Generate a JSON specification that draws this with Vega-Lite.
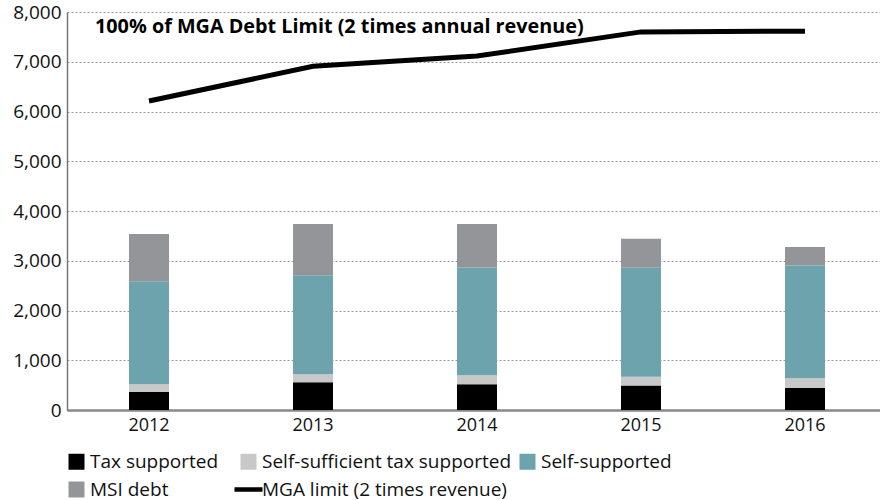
{
  "$schema": "https://vega.github.io/schema/vega-lite/v6.json",
  "width": 820,
  "height": 398,
  "padding": {"left": 12, "top": 3, "right": 0, "bottom": 0},
  "config": {
    "font": "Open Sans",
    "view": {"stroke": null},
    "axis": {"labelFont": "Open Sans", "labelFontSize": 18, "labelColor": "#111", "ticks": false, "title": null}
  },
  "datasets": {
    "debt": [
      {"year": "2012", "category": "Tax supported", "value": 360},
      {"year": "2012", "category": "Self-sufficient tax supported", "value": 160},
      {"year": "2012", "category": "Self-supported", "value": 2070},
      {"year": "2012", "category": "MSI debt", "value": 950},
      {"year": "2013", "category": "Tax supported", "value": 560},
      {"year": "2013", "category": "Self-sufficient tax supported", "value": 160},
      {"year": "2013", "category": "Self-supported", "value": 1990},
      {"year": "2013", "category": "MSI debt", "value": 1030},
      {"year": "2014", "category": "Tax supported", "value": 520},
      {"year": "2014", "category": "Self-sufficient tax supported", "value": 180},
      {"year": "2014", "category": "Self-supported", "value": 2165},
      {"year": "2014", "category": "MSI debt", "value": 875},
      {"year": "2015", "category": "Tax supported", "value": 490},
      {"year": "2015", "category": "Self-sufficient tax supported", "value": 180},
      {"year": "2015", "category": "Self-supported", "value": 2190},
      {"year": "2015", "category": "MSI debt", "value": 580},
      {"year": "2016", "category": "Tax supported", "value": 440},
      {"year": "2016", "category": "Self-sufficient tax supported", "value": 200},
      {"year": "2016", "category": "Self-supported", "value": 2265},
      {"year": "2016", "category": "MSI debt", "value": 370}
    ],
    "stackorder": [
      {"category": "Tax supported", "rank": 1},
      {"category": "Self-sufficient tax supported", "rank": 2},
      {"category": "Self-supported", "rank": 3},
      {"category": "MSI debt", "rank": 4}
    ],
    "limit": [
      {"year": "2012", "limit": 6210},
      {"year": "2013", "limit": 6910},
      {"year": "2014", "limit": 7115},
      {"year": "2015", "limit": 7600},
      {"year": "2016", "limit": 7615}
    ],
    "note": [
      {"year": "2012", "y": 7700, "label": "100% of MGA Debt Limit (2 times annual revenue)"}
    ]
  },
  "encoding": {
    "x": {
      "field": "year",
      "type": "ordinal",
      "scale": {"paddingInner": 0, "paddingOuter": 0},
      "axis": {"labelAngle": 0, "domainColor": "#888", "domainWidth": 2.5, "labelPadding": 6, "grid": false}
    }
  },
  "layer": [
    {
      "data": {"name": "debt"},
      "transform": [
        {"lookup": "category", "from": {"data": {"name": "stackorder"}, "key": "category", "fields": ["rank"]}}
      ],
      "mark": {"type": "bar", "size": 40},
      "encoding": {
        "y": {
          "field": "value",
          "type": "quantitative",
          "stack": "zero",
          "scale": {"domain": [0, 8000], "nice": false},
          "axis": {
            "tickCount": 8,
            "format": ",.0f",
            "labelFontSize": 19,
            "grid": true,
            "gridColor": "#999",
            "gridDash": [2, 2],
            "gridWidth": 1,
            "domainColor": "#777",
            "domainWidth": 1.5,
            "labelPadding": 6
          }
        },
        "order": {"field": "rank", "type": "quantitative", "sort": "ascending"},
        "color": {
          "field": "category",
          "type": "nominal",
          "scale": {
            "domain": ["Tax supported", "Self-sufficient tax supported", "Self-supported", "MSI debt", "MGA limit (2 times revenue)"],
            "range": ["#000000", "#c8c8c8", "#6da3ad", "#949599", "#000000"]
          },
          "legend": {
            "orient": "bottom",
            "direction": "horizontal",
            "columns": 3,
            "title": null,
            "labelFont": "Open Sans",
            "labelFontSize": 19,
            "labelColor": "#111",
            "labelLimit": 400,
            "symbolSize": 256,
            "symbolType": "square",
            "columnPadding": 6,
            "rowPadding": 8,
            "offset": 18,
            "encode": {
              "symbols": {
                "update": {
                  "shape": {"signal": "datum.value === 'MGA limit (2 times revenue)' ? 'stroke' : 'square'"},
                  "size": {"signal": "datum.value === 'MGA limit (2 times revenue)' ? 784 : 256"},
                  "fill": {"signal": "datum.value === 'MGA limit (2 times revenue)' ? 'transparent' : scale('color', datum.value)"},
                  "stroke": {"signal": "scale('color', datum.value)"},
                  "strokeWidth": {"signal": "datum.value === 'MGA limit (2 times revenue)' ? 4.5 : 0"},
                  "opacity": {"value": 1}
                }
              }
            }
          }
        }
      }
    },
    {
      "data": {"name": "limit"},
      "mark": {"type": "line", "color": "#000", "strokeWidth": 5, "strokeCap": "butt"},
      "encoding": {
        "y": {"field": "limit", "type": "quantitative"}
      }
    },
    {
      "data": {"name": "note"},
      "mark": {"type": "text", "align": "left", "baseline": "middle", "fontWeight": "bold", "fontSize": 19.8, "font": "Open Sans", "dx": -54, "color": "#000"},
      "encoding": {
        "y": {"field": "y", "type": "quantitative"},
        "text": {"field": "label"}
      }
    }
  ]
}
